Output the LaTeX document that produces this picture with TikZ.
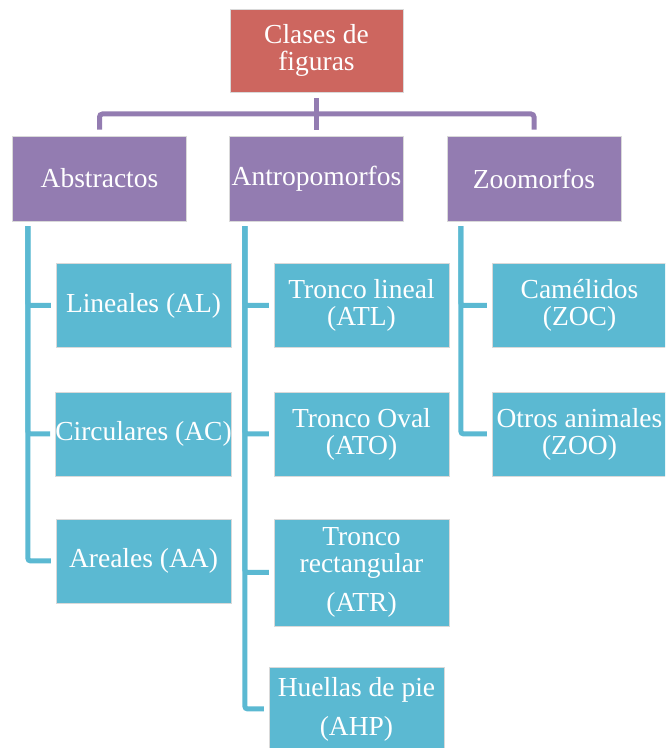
\documentclass[tikz,border=0pt]{standalone}
\usepackage{fontspec}
\setmainfont{Liberation Serif}
\usepackage{xcolor}
\definecolor{rootred}{RGB}{205,102,95}
\definecolor{lilac}{RGB}{147,124,177}
\definecolor{skyblue}{RGB}{91,185,210}

\begin{document}
\begin{tikzpicture}[x=1pt,y=1pt]
    \tikzstyle{every node}+=[inner sep=0pt, text=white, align=center, font=\fontsize{27.5}{27}\selectfont]
    \tikzstyle{box}=[draw=white!85!black, line width=0.5pt, minimum height=84pt, minimum width=175pt]
    \tikzstyle{headbox}=[box, fill=lilac, minimum width=174pt, minimum height=85pt]
    \tikzstyle{leafbox}=[box, fill=skyblue]
    \tikzstyle{pline}=[lilac, line width=5pt, rounded corners=3pt]
    \tikzstyle{cline}=[skyblue, line width=5pt, rounded corners=3pt]
    \clip (0,0) rectangle (665,748);
    % top
    \node [box, fill=rootred, minimum width=173pt, minimum height=83pt] (root) at (316.5,697.5) {Clases de\\figuras};
    \node [headbox] (abs) at (99.5,569.5) {Abstractos};
    \node [headbox] (ant) at (316.5,569.5) {Antropomorfos};
    \node [headbox] (zoo) at (534,569.5) {Zoomorfos};
    \coordinate (hub) at (316.5,634);
    \draw [pline] ([yshift=-6pt]root.south) -- ([yshift=6pt]ant.north);
    \draw [pline] ([yshift=6pt]abs.north) |- (hub) -| ([yshift=6pt]zoo.north);
    % abstractos
    \node [leafbox] (al) at (143.5,442.5) {Lineales (AL)};
    \node [leafbox] (ac) at (143.5,314) {Circulares (AC)};
    \node [leafbox] (aa) at (143.5,187) {Areales (AA)};
    \draw [cline] ([xshift=15.5pt,yshift=-5pt]abs.south west) |- ([xshift=-5pt]al.west);
    \draw [cline] ([xshift=15.5pt,yshift=-5pt]abs.south west) |- ([xshift=-5pt]ac.west);
    \draw [cline] ([xshift=15.5pt,yshift=-5pt]abs.south west) |- ([xshift=-5pt]aa.west);
    % antropomorfos
    \node [leafbox] (atl) at (361.5,442.5) {Tronco lineal\\(ATL)};
    \node [leafbox] (ato) at (361.5,314) {Tronco Oval\\(ATO)};
    \node [leafbox, minimum height=107pt] (atr) at (361.5,175.5) {Tronco\\rectangular\\[12pt](ATR)};
    \node [leafbox] (ahp) at (356.5,39) {Huellas de pie\\[12pt](AHP)};
    \draw [cline] ([xshift=15.5pt,yshift=-5pt]ant.south west) |- ([xshift=-5pt]atl.west);
    \draw [cline] ([xshift=15.5pt,yshift=-5pt]ant.south west) |- ([xshift=-5pt]ato.west);
    \draw [cline] ([xshift=15.5pt,yshift=-5pt]ant.south west) |- ([xshift=-5pt]atr.west);
    \draw [cline] ([xshift=15.5pt,yshift=-5pt]ant.south west) |- ([xshift=-5pt]ahp.west);
    % zoomorfos
    \node [leafbox] (zoc) at (579.5,442.5) {Camélidos\\(ZOC)};
    \node [leafbox] (zoo2) at (579.5,314) {Otros animales\\(ZOO)};
    \draw [cline] ([xshift=14pt,yshift=-5pt]zoo.south west) |- ([xshift=-5pt]zoc.west);
    \draw [cline] ([xshift=14pt,yshift=-5pt]zoo.south west) |- ([xshift=-5pt]zoo2.west);
\end{tikzpicture}
\end{document}
